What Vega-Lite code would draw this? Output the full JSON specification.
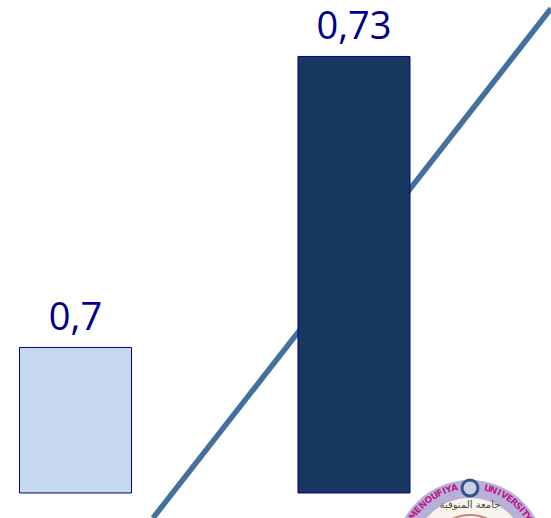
{
  "$schema": "https://vega.github.io/schema/vega-lite/v6.json",
  "width": 551,
  "height": 518,
  "padding": 0,
  "autosize": "none",
  "background": "white",
  "config": {"view": {"stroke": null}},
  "datasets": {
    "bars": [
      {"group": 1, "value": 0.7, "label": "0,7", "series": "a"},
      {"group": 2, "value": 0.73, "label": "0,73", "series": "b"}
    ],
    "trend": [
      {"group": 1.2783, "value": 0.68242},
      {"group": 2.7074, "value": 0.73495}
    ],
    "seal": [{"group": 2.4165, "value": 0.67861}],
    "emblem": [{"group": 2.4165, "value": 0.68552}],
    "motto": [{"group": 2.4165, "value": 0.68376, "label": "جامعة المنوفية"}],
    "letters": [
      {"group": 2.2136, "value": 0.68269, "rot": 305, "ch": "M"},
      {"group": 2.2294, "value": 0.68328, "rot": 311, "ch": "E"},
      {"group": 2.2474, "value": 0.6838, "rot": 317, "ch": "N"},
      {"group": 2.2675, "value": 0.68429, "rot": 323, "ch": "O"},
      {"group": 2.2891, "value": 0.6847, "rot": 329, "ch": "U"},
      {"group": 2.3081, "value": 0.685, "rot": 334, "ch": "F"},
      {"group": 2.3235, "value": 0.68521, "rot": 338, "ch": "I"},
      {"group": 2.34, "value": 0.68537, "rot": 342, "ch": "Y"},
      {"group": 2.3609, "value": 0.68554, "rot": 347, "ch": "A"},
      {"group": 2.4808, "value": 0.68548, "rot": 15, "ch": "U"},
      {"group": 2.5013, "value": 0.68529, "rot": 20, "ch": "N"},
      {"group": 2.5214, "value": 0.68505, "rot": 25, "ch": "I"},
      {"group": 2.5404, "value": 0.68477, "rot": 30, "ch": "V"},
      {"group": 2.5587, "value": 0.68443, "rot": 35, "ch": "E"},
      {"group": 2.576, "value": 0.68406, "rot": 40, "ch": "R"},
      {"group": 2.5917, "value": 0.68364, "rot": 45, "ch": "S"},
      {"group": 2.6036, "value": 0.68328, "rot": 49, "ch": "I"},
      {"group": 2.6144, "value": 0.68289, "rot": 53, "ch": "T"},
      {"group": 2.6244, "value": 0.68248, "rot": 57, "ch": "Y"}
    ]
  },
  "encoding": {
    "x": {"field": "group", "type": "quantitative", "axis": null,
          "scale": {"domain": [0.7289, 2.7074], "nice": false, "zero": false, "padding": 0}},
    "y": {"field": "value", "type": "quantitative", "axis": null,
          "scale": {"domain": [0.68242, 0.73582], "nice": false, "zero": false, "padding": 0}}
  },
  "layer": [
    {
      "data": {"name": "trend"},
      "mark": {"type": "line", "color": "#44709d", "strokeWidth": 5.5, "clip": true}
    },
    {
      "data": {"name": "bars"},
      "mark": {"type": "bar", "width": 112, "stroke": "#00008b", "strokeWidth": 1, "clip": true},
      "encoding": {
        "y2": {"datum": 0.685},
        "color": {"field": "series", "type": "nominal", "legend": null,
                  "scale": {"domain": ["a", "b"], "range": ["#c6d9f0", "#17375e"]}}
      }
    },
    {
      "data": {"name": "bars"},
      "mark": {"type": "text", "font": "Open Sans", "fontSize": 38, "color": "#00008b",
               "baseline": "alphabetic", "align": "center", "dy": -17},
      "encoding": {"text": {"field": "label", "type": "nominal"}}
    },
    {
      "data": {"name": "seal"},
      "mark": {"type": "point", "shape": "circle", "filled": true, "size": 22500,
               "color": "#b7b1d8", "opacity": 1, "clip": true}
    },
    {
      "data": {"name": "seal"},
      "mark": {"type": "point", "shape": "circle", "filled": true, "size": 12996,
               "color": "#f8f5ee", "opacity": 1, "clip": true}
    },
    {
      "data": {"name": "seal"},
      "mark": {"type": "point", "shape": "circle", "filled": false, "size": 6400,
               "stroke": "#c08a70", "strokeWidth": 2, "opacity": 1, "clip": true}
    },
    {
      "data": {"name": "emblem"},
      "mark": {"type": "point", "shape": "circle", "filled": true, "size": 256,
               "color": "#c9cfe4", "stroke": "#34528c", "strokeWidth": 3, "opacity": 1}
    },
    {
      "data": {"name": "letters"},
      "mark": {"type": "text", "font": "DejaVu Sans", "fontWeight": "bold", "fontSize": 9,
               "color": "#c2188c", "baseline": "middle", "align": "center"},
      "encoding": {
        "text": {"field": "ch", "type": "nominal"},
        "angle": {"field": "rot", "type": "quantitative", "scale": null}
      }
    },
    {
      "data": {"name": "motto"},
      "mark": {"type": "text", "font": "DejaVu Sans", "fontSize": 10, "color": "#4a4a3a",
               "baseline": "middle", "align": "center"},
      "encoding": {"text": {"field": "label", "type": "nominal"}}
    }
  ]
}
